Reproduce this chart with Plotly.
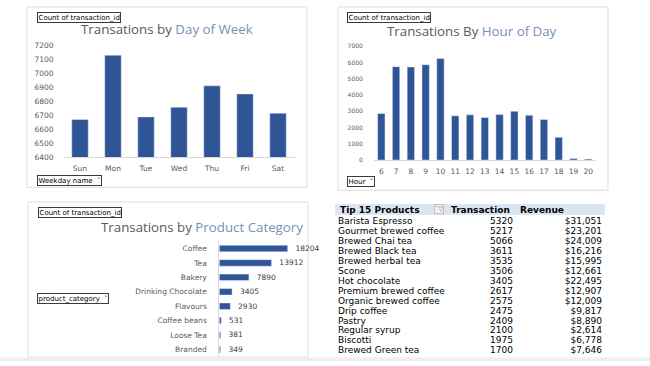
import plotly.graph_objects as go

W, H = 650, 366

# ---- data ----
days = ["Sun", "Mon", "Tue", "Wed", "Thu", "Fri", "Sat"]
day_counts = [6671, 7129, 6689, 6758, 6911, 6853, 6715]

hours = ["6", "7", "8", "9", "10", "11", "12", "13", "14", "15", "16", "17", "18", "19", "20"]
hour_counts = [2860, 5740, 5720, 5860, 6240, 2720, 2780, 2620, 2800, 3000, 2760, 2500, 1400, 100, 60]

categories = ["Coffee", "Tea", "Bakery", "Drinking Chocolate", "Flavours", "Coffee beans", "Loose Tea", "Branded"]
category_counts = [18204, 13912, 7890, 3405, 2930, 531, 381, 349]

table_headers = ["Tip 15 Products", "Transaction", "Revenue"]
products = ["Barista Espresso", "Gourmet brewed coffee", "Brewed Chai tea", "Brewed Black tea",
            "Brewed herbal tea", "Scone", "Hot chocolate", "Premium brewed coffee",
            "Organic brewed coffee", "Drip coffee", "Pastry", "Regular syrup", "Biscotti",
            "Brewed Green tea"]
product_transactions = [5320, 5217, 5066, 3611, 3535, 3506, 3405, 2617, 2575, 2475, 2409, 2100, 1975, 1700]
product_revenue = [31051, 23201, 24009, 16216, 15995, 12661, 22495, 12907, 12009, 9817, 8890, 2614, 6778, 7646]

BAR = "#2F5597"
TICK = "#595959"
TFONT = "DejaVu Sans"
TITLE_FONT = "Open Sans"


def px(x):
    return x / W


def py(y):
    return 1 - y / H


fig = go.Figure()

fig.add_trace(go.Bar(x=days, y=day_counts, marker_color=BAR, width=0.5,
                     xaxis="x", yaxis="y", showlegend=False, hoverinfo="skip"))
fig.add_trace(go.Bar(x=hours, y=hour_counts, marker_color=BAR, width=0.5,
                     xaxis="x2", yaxis="y2", showlegend=False, hoverinfo="skip"))
fig.add_trace(go.Bar(x=category_counts, y=categories, orientation="h", marker_color=BAR,
                     width=0.45, text=[str(v) for v in category_counts],
                     texttemplate="\u00a0\u00a0%{text}", textposition="outside",
                     constraintext="none",
                     textfont=dict(size=7.5, color="#404040", family=TFONT), cliponaxis=False,
                     xaxis="x3", yaxis="y3", showlegend=False, hoverinfo="skip"))

# ---- table drawn as text columns on its own axes ----
cell_font = dict(size=9, color="#000000", family=TFONT)
fig.add_trace(go.Scatter(x=[0.011] * len(products), y=products, mode="text", text=products,
                         textposition="middle right", textfont=cell_font, cliponaxis=False,
                         xaxis="x4", yaxis="y4", showlegend=False, hoverinfo="skip"))
fig.add_trace(go.Scatter(x=[0.659] * len(products), y=products, mode="text",
                         text=[str(v) for v in product_transactions],
                         textposition="middle left", textfont=cell_font, cliponaxis=False,
                         xaxis="x4", yaxis="y4", showlegend=False, hoverinfo="skip"))
fig.add_trace(go.Scatter(x=[0.989] * len(products), y=products, mode="text",
                         text=[f"${v:,}" for v in product_revenue],
                         textposition="middle left", textfont=cell_font, cliponaxis=False,
                         xaxis="x4", yaxis="y4", showlegend=False, hoverinfo="skip"))

axis_common = dict(showgrid=False, zeroline=False, ticks="")
tf = dict(size=7.5, color=TICK, family=TFONT)
hidden = dict(visible=False, showgrid=False, zeroline=False)

fig.update_layout(
    width=W, height=H, margin=dict(l=0, r=0, t=0, b=0),
    paper_bgcolor="white", plot_bgcolor="rgba(0,0,0,0)",
    font=dict(family=TITLE_FONT),
    xaxis=dict(domain=[px(63.5), px(294.5)], anchor="y", showline=True, linecolor="#D9D9D9",
               ticklabelstandoff=4, tickfont=tf, **axis_common),
    yaxis=dict(domain=[py(157.3), py(42.3)], anchor="x", range=[6400, 7200], dtick=100,
               ticklabelstandoff=9, tickfont=tf, **axis_common),
    xaxis2=dict(domain=[px(373.9), px(595.7)], anchor="y2", type="category", showline=True,
                linecolor="#D9D9D9", ticklabelstandoff=4, tickfont=tf, **axis_common),
    yaxis2=dict(domain=[py(160), py(43.3)], anchor="x2", range=[0, 7000], dtick=1000,
                ticklabelstandoff=10, tickfont=dict(size=6, color=TICK, family=TFONT),
                **axis_common),
    xaxis3=dict(domain=[px(219.3), px(308)], anchor="y3", range=[0, 23600], showticklabels=False,
                **axis_common),
    yaxis3=dict(domain=[py(361.5), py(243.3)], anchor="x3", autorange="reversed", showline=True,
                linecolor="#D9D9D9", ticklabelstandoff=10, tickfont=tf, **axis_common),
    xaxis4=dict(domain=[px(335), px(605)], anchor="y4", range=[0, 1], **hidden),
    yaxis4=dict(domain=[py(363.2), py(216.2)], anchor="x4", autorange="reversed",
                type="category", **hidden),
)

TITLE_GRAY = "#595959"
TITLE_BLUE = "#7A8FB8"


def title(x, y, a, b):
    fig.add_annotation(x=px(x), y=py(y), xref="paper", yref="paper", showarrow=False,
                       text=f"<span style='color:{TITLE_GRAY}'>{a}</span> <span style='color:{TITLE_BLUE}'>{b}</span>",
                       font=dict(size=13.3, family=TITLE_FONT), xanchor="center", yanchor="middle")


def button(x, y, text):
    fig.add_annotation(x=px(x), y=py(y), xref="paper", yref="paper", showarrow=False,
                       text=text, font=dict(size=7, color="black", family=TFONT),
                       bgcolor="white", bordercolor="#3a3a3a", borderwidth=1, borderpad=0.5,
                       xanchor="left", yanchor="middle")


title(167, 25.5, "Transations by", "Day of Week")
title(472, 27.5, "Transations By", "Hour of Day")
title(202, 228.5, "Transations by", "Product Category")

button(37, 13.5, "Count of transaction_id")
button(347, 14, "Count of transaction_id")
button(38, 213.5, "Count of transaction_id")
button(37, 181, "Weekday name  \u02c5")
button(347, 182, "Hour  \u02c5")
button(37, 301.5, "product_category  \u02c5")

# table header
hdr_font = dict(size=9, color="#000000", family=TFONT, weight=700)
for xpos, label in zip([338, 449, 518], table_headers):
    fig.add_annotation(x=px(xpos), y=py(210.8), xref="paper", yref="paper", showarrow=False,
                       text=label, font=hdr_font, xanchor="left", yanchor="middle")
# filter icon in table header
fig.add_annotation(x=px(439), y=py(210.5), xref="paper", yref="paper", showarrow=False,
                   text="\u02c5\u25bd", font=dict(size=6.5, color="#7a7a7a", family="DejaVu Sans"),
                   bgcolor="#F2F2F2", bordercolor="#BFBFBF", borderwidth=1, borderpad=0,
                   xanchor="center", yanchor="middle")

shapes = []
for (x0, y0, x1, y1) in [(27, 3, 307, 188), (338, 3, 608, 191), (28, 203, 308, 362)]:
    shapes.append(dict(type="rect", xref="paper", yref="paper", x0=px(x0), x1=px(x1),
                       y0=py(y1), y1=py(y0), line=dict(color="#DDDDDD", width=1),
                       fillcolor="rgba(0,0,0,0)", layer="below"))
shapes.append(dict(type="rect", xref="paper", yref="paper", x0=px(335), x1=px(605),
                   y0=py(216.3), y1=py(205), line=dict(width=0), fillcolor="#DCE6F1", layer="below"))
shapes.append(dict(type="rect", xref="paper", yref="paper", x0=0, x1=1, y0=0, y1=py(362.5),
                   line=dict(width=0), fillcolor="#EFEFEF", layer="below"))
fig.update_layout(shapes=shapes)

fig.write_html("out.html", config={"displayModeBar": False},
               post_script="document.body.style.margin='0px';")
